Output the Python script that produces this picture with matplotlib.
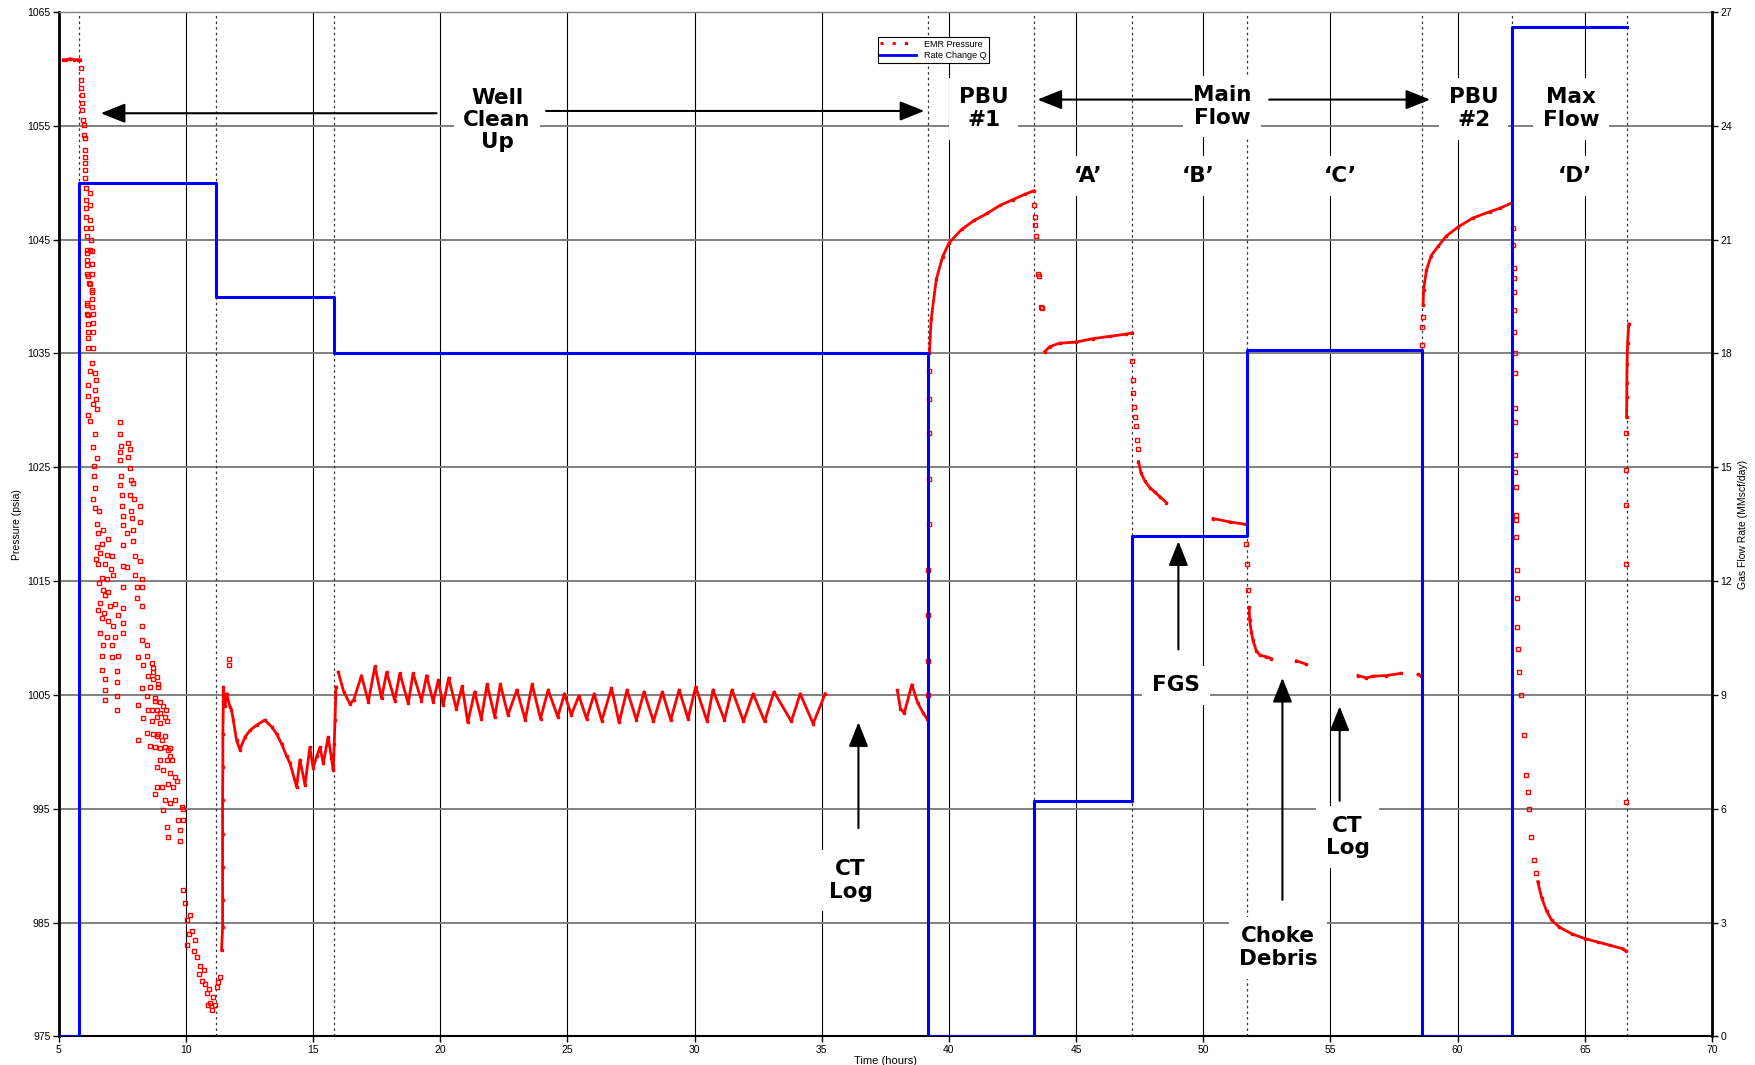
import numpy as np
import matplotlib
matplotlib.use('Agg')
import matplotlib.pyplot as plt
from matplotlib.lines import Line2D

# ---- gauge pressure (EMR), hours / psia ----
# continuous stretches (dense dots that read as a line)
p_start = [(5.18, 1060.8), (5.3, 1060.8), (5.45, 1060.9), (5.6, 1060.8), (5.75, 1060.8), (5.83, 1060.8)]

p_rise1 = [(11.40, 982.6), (11.44, 984.6), (11.44, 987.0), (11.44, 989.9), (11.44, 992.8), (11.44, 995.8),
           (11.45, 998.7), (11.45, 1001.6), (11.47, 1004.5), (11.47, 1005.7), (11.53, 1004.0), (11.60, 1005.1),
           (11.73, 1003.96), (11.79, 1003.7), (11.86, 1002.8), (11.99, 1001.0), (12.12, 1000.2), (12.32, 1001.3),
           (12.52, 1001.9), (12.78, 1002.35), (13.10, 1002.8), (13.37, 1002.2), (13.56, 1001.6), (13.76, 1000.7),
           (13.96, 999.6), (14.09, 999.0), (14.28, 997.5), (14.35, 996.9), (14.48, 999.3), (14.68, 997.1),
           (14.87, 1000.4), (15.0, 998.6), (15.14, 999.6), (15.27, 1000.4), (15.40, 999.0), (15.59, 1001.3),
           (15.72, 999.5), (15.79, 998.4), (15.83, 1000.7), (15.86, 1002.8), (15.90, 1005.7)]

p_cycles = [(15.99, 1007.0), (16.2, 1005.3), (16.45, 1004.2), (16.6, 1004.6), (16.9, 1006.7), (17.17, 1004.4),
            (17.43, 1007.5), (17.69, 1004.7), (17.89, 1007.0), (18.21, 1004.5), (18.41, 1006.9), (18.74, 1004.25),
            (18.93, 1006.9), (19.26, 1004.5), (19.46, 1006.7), (19.72, 1004.4), (19.92, 1006.3), (20.11, 1004.1),
            (20.33, 1006.5), (20.63, 1003.76), (20.86, 1005.77), (21.08, 1002.58), (21.35, 1005.27), (21.61, 1002.91),
            (21.84, 1005.94), (22.14, 1003.08), (22.36, 1005.94), (22.66, 1003.25), (23.01, 1005.44), (23.34, 1002.81),
            (23.61, 1005.94), (23.94, 1002.91), (24.24, 1005.44), (24.62, 1003.08), (24.88, 1005.10), (25.15, 1003.25),
            (25.45, 1004.93), (25.75, 1002.91), (26.05, 1005.10), (26.35, 1002.75), (26.73, 1005.61), (27.03, 1002.58),
            (27.34, 1005.44), (27.71, 1002.81), (28.01, 1005.27), (28.38, 1002.68), (28.73, 1005.27), (29.06, 1002.81),
            (29.39, 1005.44), (29.74, 1002.91), (30.04, 1005.71), (30.49, 1002.68), (30.72, 1005.44), (31.17, 1002.81),
            (31.47, 1005.44), (31.92, 1002.68), (32.30, 1005.10), (32.75, 1002.68), (33.12, 1005.27), (33.80, 1002.68),
            (34.15, 1005.10), (34.66, 1002.48), (35.13, 1005.10)]

p_after_log = [(37.97, 1005.4), (38.09, 1003.8), (38.24, 1003.4), (38.54, 1005.9), (38.77, 1004.3),
               (38.99, 1003.4), (39.14, 1002.9)]

p_pbu1 = [(39.23, 1035.0), (39.3, 1038.0), (39.5, 1041.5), (39.75, 1043.5), (40.0, 1044.7), (40.5, 1045.9),
          (41.0, 1046.7), (41.5, 1047.3), (42.0, 1048.0), (42.5, 1048.5), (43.0, 1049.0), (43.35, 1049.3)]

p_flow_a = [(43.76, 1035.15), (43.96, 1035.6), (44.35, 1035.9), (45.01, 1036.0), (45.66, 1036.3),
            (46.32, 1036.5), (46.97, 1036.7), (47.18, 1036.8)]

p_flow_b = [(47.45, 1025.5), (47.55, 1024.5), (47.7, 1023.8), (47.9, 1023.2), (48.1, 1022.8),
            (48.3, 1022.4), (48.55, 1021.9)]

p_flow_b2 = [(50.38, 1020.5), (51.04, 1020.2), (51.63, 1020.0)]

p_flow_c = [(51.80, 1012.7), (51.82, 1011.6), (51.89, 1010.5), (51.95, 1009.8), (52.08, 1008.9),
            (52.22, 1008.5), (52.48, 1008.35), (52.67, 1008.2)]
p_flow_c2 = [(53.66, 1008.0), (54.05, 1007.7)]
p_flow_c3 = [(56.08, 1006.7), (56.41, 1006.5), (56.67, 1006.65), (57.19, 1006.7), (57.78, 1006.9)]
p_flow_c4 = [(58.44, 1006.8), (58.57, 1006.65)]

p_pbu2 = [(58.64, 1039.25), (58.66, 1040.57), (58.77, 1042.3), (58.96, 1043.6), (59.23, 1044.4),
          (59.55, 1045.3), (60.01, 1046.1), (60.6, 1046.9), (61.26, 1047.45), (61.65, 1047.75), (62.11, 1048.2)]

p_flow_d = [(63.15, 988.6), (63.3, 987.2), (63.5, 986.0), (63.7, 985.2), (64.0, 984.6), (64.5, 984.0),
            (65.0, 983.6), (65.5, 983.3), (66.0, 983.0), (66.5, 982.7), (66.62, 982.5)]

p_end = [(66.64, 1029.4), (66.65, 1031.2), (66.65, 1032.4), (66.66, 1034.1), (66.68, 1035.9), (66.73, 1037.6)]

# scattered gauge points
p_cleanup_pts = [
    (5.86, 1060.05), (5.86, 1059.0), (5.87, 1058.3), (5.90, 1057.7), (5.91, 1057.0), (5.92, 1056.4),
    (5.96, 1055.5), (5.99, 1055.1), (5.99, 1054.2), (6.02, 1053.9), (6.03, 1052.9), (6.03, 1052.3),
    (6.03, 1051.7), (6.04, 1051.1), (6.03, 1050.4), (6.06, 1049.5), (6.06, 1048.5), (6.23, 1049.1),
    (6.06, 1047.75), (6.23, 1048.05), (6.06, 1047.0), (6.23, 1046.7), (6.07, 1046.0), (6.25, 1046.0),
    (6.09, 1045.3), (6.25, 1045.0), (6.09, 1044.1), (6.23, 1044.1), (6.12, 1043.2), (6.29, 1042.9),
    (6.12, 1042.0), (6.29, 1042.0), (6.20, 1041.2), (6.29, 1040.6), (6.29, 1039.8), (6.12, 1039.25),
    (6.33, 1038.5), (6.12, 1038.5),
    (6.095, 1043.8), (6.29, 1044.0), (6.095, 1042.8), (6.16, 1041.8), (6.23, 1041.1), (6.29, 1040.4),
    (6.095, 1039.4), (6.29, 1039.1), (6.16, 1038.4), (6.16, 1037.6), (6.36, 1037.7), (6.16, 1036.9),
    (6.33, 1036.9), (6.16, 1036.4), (6.16, 1035.5), (6.33, 1035.5), (6.32, 1034.2), (6.23, 1033.5),
    (6.42, 1033.3), (6.46, 1032.7), (6.16, 1032.2), (6.42, 1031.8), (6.16, 1031.3), (6.36, 1030.6),
    (6.46, 1031.0), (6.49, 1030.1), (6.16, 1029.6), (6.23, 1029.1), (6.42, 1027.9), (6.36, 1026.8),
    (6.49, 1025.8), (6.38, 1025.1), (6.38, 1024.25), (6.42, 1023.2), (6.36, 1022.2), (6.42, 1021.4),
    (6.59, 1021.2), (6.49, 1020.0), (6.55, 1019.2), (6.75, 1019.5), (6.68, 1018.3), (6.95, 1018.7),
    (6.51, 1018.0), (6.62, 1017.5), (6.88, 1017.3), (7.08, 1017.2), (6.55, 1016.5), (6.82, 1016.5),
    (6.68, 1015.3), (6.88, 1015.2), (7.14, 1015.5), (6.62, 1013.1), (6.82, 1013.8), (7.01, 1012.8),
    (7.21, 1013.0), (6.55, 1012.5), (6.68, 1011.8), (6.95, 1011.5), (7.14, 1011.1), (7.34, 1012.0),
    (6.62, 1010.4), (6.88, 1010.1), (7.21, 1010.1), (6.75, 1009.4), (7.08, 1009.4), (6.68, 1008.4),
    (7.08, 1008.3), (7.34, 1008.4), (6.68, 1007.2), (7.27, 1007.1), (6.82, 1006.4), (7.27, 1006.1),
    (6.82, 1005.4), (7.27, 1004.9), (6.82, 1004.6), (7.27, 1003.7),
    (6.72, 1014.2), (6.93, 1014.0), (6.58, 1014.8), (7.05, 1016.1), (6.78, 1012.2), (6.48, 1016.9),
    (7.40, 1029.0), (7.40, 1027.9), (7.43, 1026.9), (7.40, 1026.3), (7.40, 1025.6), (7.73, 1027.1),
    (7.80, 1026.6), (7.73, 1025.9), (7.80, 1024.9), (7.43, 1024.25), (7.82, 1023.9), (7.40, 1023.4),
    (7.93, 1023.6), (7.47, 1022.6), (7.80, 1022.6), (7.95, 1022.2), (7.47, 1021.6), (7.82, 1021.2),
    (8.19, 1021.6), (7.51, 1020.7), (7.86, 1020.55), (8.19, 1020.2), (7.54, 1019.9), (7.90, 1019.5),
    (7.67, 1019.2), (7.93, 1018.5), (7.54, 1018.2), (7.99, 1017.2), (8.19, 1016.8), (7.54, 1016.3),
    (7.67, 1016.2), (7.99, 1015.5), (8.26, 1015.2), (7.54, 1014.5), (8.06, 1014.5), (8.26, 1014.5),
    (8.06, 1013.5), (8.26, 1012.8), (7.54, 1012.6), (8.26, 1011.1), (7.54, 1011.3), (7.54, 1010.4),
    (8.26, 1009.8), (8.45, 1009.4), (8.13, 1008.3), (8.45, 1008.4), (8.32, 1007.6), (8.71, 1007.4),
    (8.52, 1006.7), (8.71, 1006.4), (8.26, 1005.6), (8.58, 1005.7), (8.91, 1005.7), (8.45, 1004.9),
    (8.78, 1004.7), (8.98, 1004.4), (8.13, 1004.1), (8.52, 1003.7), (8.85, 1003.7), (9.21, 1003.7),
    (8.32, 1003.0), (8.65, 1002.7), (8.98, 1002.5), (9.24, 1002.7), (8.45, 1001.7), (8.85, 1001.4),
    (9.17, 1001.4), (8.13, 1001.0), (8.58, 1000.5), (8.98, 1000.35), (9.37, 1000.35),
    (8.65, 1007.8), (8.72, 1007.0), (8.85, 1006.6), (8.91, 1006.0), (8.78, 1004.5), (8.65, 1003.7),
    (8.85, 1003.1), (8.98, 1003.4), (9.11, 1004.0), (9.17, 1003.1), (8.72, 1001.6), (8.91, 1001.6),
    (9.04, 1001.0), (8.78, 1000.4), (9.17, 1000.4), (9.31, 1000.2), (9.37, 999.6), (8.98, 999.3),
    (9.24, 999.3), (9.44, 999.3), (8.85, 998.7), (9.11, 998.4), (9.37, 998.1), (9.57, 997.8),
    (8.85, 996.9), (9.04, 996.9), (9.31, 997.2), (9.50, 996.9), (9.63, 997.4), (8.78, 996.3),
    (9.17, 995.8), (9.37, 995.5), (9.57, 995.8), (9.83, 995.2), (9.11, 994.9), (9.895, 995.0),
    (9.24, 993.4), (9.31, 992.5), (9.70, 994.0), (9.76, 993.1), (9.76, 992.2), (9.895, 994.0),
    (9.895, 987.85), (9.96, 986.7), (10.03, 985.2), (10.03, 983.0), (10.16, 985.65), (10.22, 984.3),
    (10.1, 984.0), (10.35, 983.5), (10.3, 982.5), (10.42, 982.0), (10.55, 981.2), (10.5, 980.5),
    (10.62, 979.9), (10.7, 980.8), (10.75, 979.65), (10.81, 978.8), (10.9, 979.2), (10.85, 977.8),
    (10.94, 977.9), (11.01, 977.3), (11.05, 978.5), (11.14, 977.75), (11.205, 979.35), (11.27, 979.8),
    (11.34, 980.2), (11.69, 1008.2), (11.68, 1007.6)]

p_event_pts = [
    (39.18, 1005.0), (39.18, 1008.0), (39.19, 1012.0), (39.19, 1016.0), (39.2, 1020.0), (39.2, 1024.0),
    (39.21, 1028.0), (39.21, 1031.0), (39.22, 1033.5),
    (43.36, 1048.0), (43.37, 1047.0), (43.38, 1046.3), (43.41, 1045.3), (43.50, 1042.0), (43.52, 1041.8),
    (43.63, 1039.1), (43.67, 1039.0),
    (47.21, 1034.3), (47.23, 1032.7), (47.25, 1031.5), (47.27, 1030.3), (47.30, 1029.4), (47.37, 1028.6),
    (47.39, 1027.4), (47.43, 1026.6),
    (51.69, 1018.3), (51.72, 1016.5), (51.76, 1014.2),
    (58.61, 1035.7), (58.61, 1037.35), (58.63, 1038.2),
    (62.17, 1046.0), (62.19, 1044.5), (62.21, 1042.5), (62.21, 1041.6), (62.21, 1040.4), (62.21, 1038.8),
    (62.21, 1036.9), (62.24, 1035.0), (62.24, 1033.25), (62.24, 1030.2), (62.24, 1029.0), (62.24, 1026.1),
    (62.24, 1024.6), (62.28, 1023.3), (62.28, 1020.8), (62.28, 1020.4), (62.28, 1018.9), (62.32, 1016.0),
    (62.33, 1013.5), (62.35, 1011.0), (62.38, 1009.0), (62.42, 1007.0), (62.5, 1005.0), (62.6, 1001.5),
    (62.7, 998.0), (62.75, 996.5), (62.8, 995.0), (62.9, 992.5), (63.0, 990.5), (63.08, 989.4),
    (66.62, 995.6), (66.63, 1016.5), (66.63, 1021.7), (66.63, 1024.75), (66.63, 1027.97)]

# ---- gas rate (MMscf/day), step changes ----
rate_time = [5.0, 5.81, 11.18, 15.82, 39.18, 43.35, 47.2, 51.7, 58.61, 62.13, 66.66]
rate_q = [0.0, 22.5, 19.5, 18.0, 0.0, 6.2, 13.2, 18.1, 0.0, 26.6, 26.6]

# times of the dotted event markers
event_times = [5.81, 11.2, 15.83, 39.17, 43.35, 47.2, 51.7, 58.61, 62.13, 66.66]

smooth_segments = [p_start, p_rise1, p_cycles, p_after_log, p_pbu1, p_flow_a, p_flow_b, p_flow_b2,
                   p_flow_c, p_flow_c2, p_flow_c3, p_flow_c4, p_pbu2, p_flow_d, p_end]

tick_font = 'Liberation Sans'
note_font = 'DejaVu Sans'

fig = plt.figure(figsize=(17.55, 10.65), dpi=100)
ax = fig.add_axes([0.0335, 0.0268, 0.942, 0.962])

ax.set_xlim(5, 70)
ax.set_ylim(975, 1065)
ax.set_xticks(np.arange(5, 71, 5))
ax.set_yticks(np.arange(975, 1066, 10))
ax.grid(axis='x', color='black', lw=0.8)
ax.grid(axis='y', color='#808080', lw=1.4)
ax.set_axisbelow(True)
for t in event_times:
    ax.axvline(t, color='#333333', ls=(0, (2, 2.5)), lw=0.9, zorder=1)

for seg in smooth_segments:
    a = np.array(seg)
    ax.plot(a[:, 0], a[:, 1], color='red', lw=2.0, marker='s', ms=1.8, zorder=3)
for pts in [p_cleanup_pts, p_event_pts]:
    a = np.array(pts)
    ax.plot(a[:, 0], a[:, 1], ls='none', marker='s', ms=2.2, mfc='none', mec='red', mew=1.0, zorder=3)

ax.set_ylabel('Pressure (psia)', fontsize=7.5, family=tick_font, labelpad=4)
ax.set_xlabel('Time (hours)', fontsize=8, family=tick_font, labelpad=1)
ax.tick_params(labelsize=7.5, length=4, width=1, pad=2)
for lab in ax.get_xticklabels() + ax.get_yticklabels():
    lab.set_family(tick_font)
ax.spines['left'].set_linewidth(2)
ax.spines['bottom'].set_linewidth(1.5)
ax.spines['top'].set_linewidth(1)
ax.spines['top'].set_color('#808080')

ax2 = ax.twinx()
ax2.plot(rate_time, rate_q, drawstyle='steps-post', color='#0000ff', lw=2.2, zorder=4)
ax2.set_ylim(0, 27)
ax2.set_yticks(np.arange(0, 28, 3))
ax2.set_ylabel('Gas Flow Rate (MMscf/day)', fontsize=7.5, family=tick_font, labelpad=4)
ax2.tick_params(labelsize=7.5, length=4, width=1, pad=2)
for lab in ax2.get_yticklabels():
    lab.set_family(tick_font)
ax2.spines['right'].set_linewidth(2)
ax2.spines['left'].set_visible(False)
ax2.spines['top'].set_visible(False)
ax2.spines['bottom'].set_visible(False)

handles = [Line2D([], [], color='red', ls=(0, (1, 3)), lw=2.2),
           Line2D([], [], color='#0000ff', lw=2)]
leg = ax2.legend(handles, ['EMR Pressure', 'Rate Change Q'], loc='upper left',
                 bbox_to_anchor=(0.4925, 0.98), prop={'family': tick_font, 'size': 6.5},
                 fancybox=False, framealpha=1, edgecolor='black', borderpad=0.3,
                 handlelength=4, labelspacing=0.3)
leg.get_frame().set_linewidth(0.8)

# ---- annotations (placed in pressure coordinates, drawn above everything) ----
box = dict(fc='white', ec='none', pad=7)
labels = [
    ('Well\nClean\nUp', 22.23, 1055.5),
    ('PBU\n#1', 41.37, 1056.5),
    ('Main\nFlow', 50.74, 1056.7),
    ('PBU\n#2', 60.64, 1056.5),
    ('Max\nFlow', 64.47, 1056.5),
    ("\u2018A\u2019", 45.46, 1050.6),
    ("\u2018B\u2019", 49.81, 1050.6),
    ("\u2018C\u2019", 55.40, 1050.6),
    ("\u2018D\u2019", 64.60, 1050.6),
    ('FGS', 48.93, 1005.85),
    ('CT\nLog', 36.13, 988.7),
    ('Choke\nDebris', 52.94, 982.8),
    ('CT\nLog', 55.67, 992.5),
]
for s, x, y in labels:
    ax2.text(x, y, s, transform=ax.transData, ha='center', va='center', fontsize=15.5,
             fontweight='bold', family=note_font, linespacing=1.15, bbox=box, zorder=6)

arrows = [
    ((19.85, 1056.1), (6.65, 1056.1)),
    ((24.16, 1056.3), (39.03, 1056.3)),
    ((49.55, 1057.3), (43.48, 1057.3)),
    ((52.59, 1057.3), (58.92, 1057.3)),
    ((49.02, 1009.0), (49.02, 1018.5)),
    ((36.44, 993.3), (36.44, 1002.6)),
    ((53.11, 987.0), (53.11, 1006.5)),
    ((55.36, 995.7), (55.36, 1004.0)),
]
for tail, head in arrows:
    ax2.annotate('', xy=head, xytext=tail, xycoords=ax.transData, textcoords=ax.transData,
                 arrowprops=dict(arrowstyle='-|>,head_length=1.0,head_width=0.4', mutation_scale=15,
                                 color='black', lw=1.5, shrinkA=0, shrinkB=0), zorder=7)

fig.savefig('out.png', dpi=100)
